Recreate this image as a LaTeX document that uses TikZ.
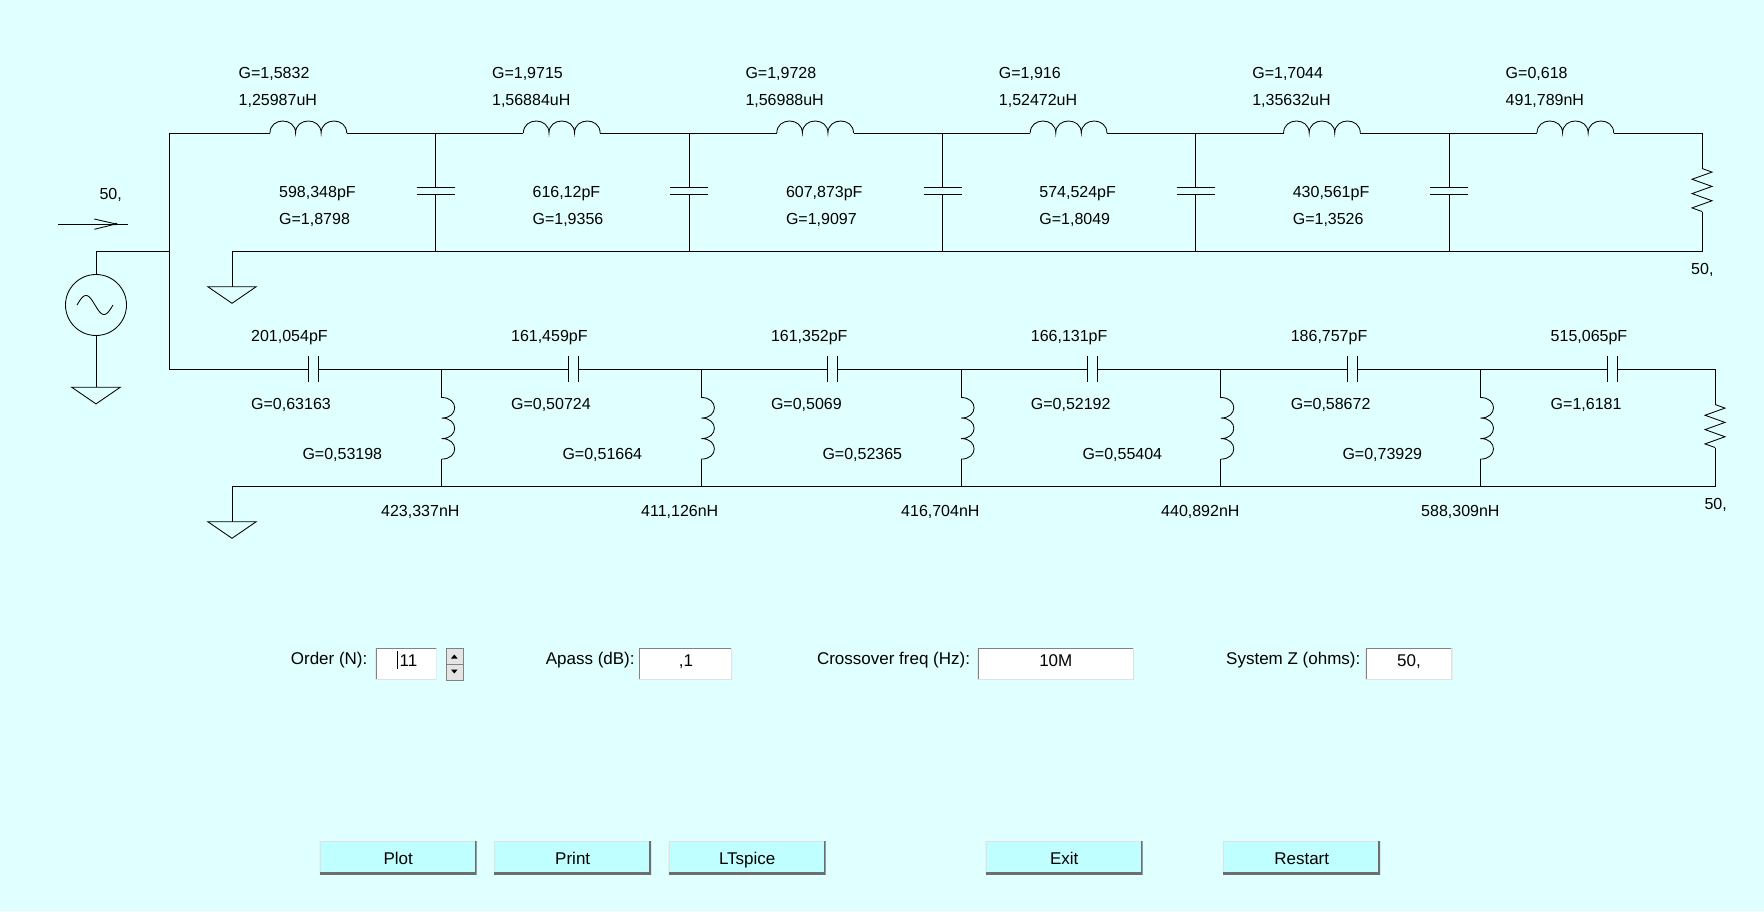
\documentclass[tikz,border=0pt]{standalone}
\usepackage{fontspec}
\setmainfont{Liberation Sans}
\definecolor{bgc}{RGB}{224,255,255}
\definecolor{btnc}{RGB}{191,255,255}
\definecolor{edgedark}{RGB}{110,110,110}
\definecolor{edgelight}{RGB}{225,225,225}
\definecolor{boxdark}{RGB}{130,130,130}
\definecolor{spinc}{RGB}{228,228,228}
\tikzset{
  hcoil/.pic={\draw[coilline] (0,0) .. controls (0,-16) and (25.57,-16) .. (25.57,0)
      .. controls (25.57,-16) and (51.13,-16) .. (51.13,0)
      .. controls (51.13,-16) and (76.7,-16) .. (76.7,0);},
  vcoil/.pic={\draw[coilline] (0,0) .. controls (17.3,0) and (17.3,20.53) .. (0,20.53)
      .. controls (17.3,20.53) and (17.3,41.07) .. (0,41.07)
      .. controls (17.3,41.07) and (17.3,61.6) .. (0,61.6);},
  gndtri/.pic={\draw[coilline] (-24.2,0) -- (24.2,0) -- (0,16.6) -- cycle;},
  resz/.pic={\draw[coilline] (0,0) -- (10,3.6) -- (-10,10.75) -- (10,17.9) -- (-10,25.1)
      -- (10,32.25) -- (-10,39.4) -- (0,43);},
}
\begin{document}
\begin{tikzpicture}[x=1pt,y=-1pt,
  wire/.style={line width=1pt},
  coilline/.style={line width=0.85pt},
  lbl/.style={anchor=base west,inner sep=0pt,font=\fontsize{16}{19}\selectfont},
  guitxt/.style={anchor=base west,inner sep=0pt,font=\fontsize{17}{20}\selectfont},
  boxtxt/.style={anchor=base,inner sep=0pt,font=\fontsize{17}{20}\selectfont},
  tbox/.style={fill=white,inner sep=0pt,anchor=north west,minimum height=31.5pt,
    path picture={
      \draw[line width=2.4pt,boxdark] (path picture bounding box.south west) -- (path picture bounding box.north west) -- (path picture bounding box.north east);
      \draw[line width=2.4pt,edgelight] (path picture bounding box.north east) -- (path picture bounding box.south east) -- (path picture bounding box.south west);}},
  btn/.style={fill=btnc,inner sep=0pt,anchor=north west,minimum width=157pt,minimum height=33pt,
    font=\fontsize{17}{20}\selectfont,text height=14.4pt,text depth=0pt,
    path picture={
      \draw[line width=2.4pt,edgelight] (path picture bounding box.south west) -- (path picture bounding box.north west) -- (path picture bounding box.north east);
      \draw[line width=4pt,edgedark] (path picture bounding box.north east) -- (path picture bounding box.south east) -- (path picture bounding box.south west);}},
  spinbtn/.style={fill=spinc,draw=boxdark,line width=0.8pt,inner sep=0pt,anchor=north west,minimum width=16.7pt,minimum height=15.6pt},
]
\fill[bgc] (0,0) rectangle (1764,911);
\useasboundingbox (0,0) rectangle (1764,911);

% ---------------- source ----------------
\node[circle,draw,coilline,minimum size=61pt,inner sep=0pt] (src) at (96,305) {};
\draw[coilline] plot[domain=0:360,samples=60,smooth] ({77+\x/10},{305-9.5*sin(\x)});
\coordinate (srcTop) at (96,251);
\coordinate (srcGnd) at (96,387.3);
\coordinate (inJ) at (169,251);
\draw[wire] (src.north) -- (srcTop) -- (inJ);
\draw[wire] (src.south) -- (srcGnd);
\pic at (srcGnd) {gndtri};
% arrow
\coordinate (arL) at (58,224);
\coordinate (arR) at (128,224);
\coordinate (arTip) at (116,224);
\draw[coilline] (arL) -- (arR);
\draw[coilline] (94.3,219) -- (arTip) -- (94.3,229.3);
\fill (arTip) circle (1.3pt);
\node[lbl] (zin) at (99.3,199.3) {50,};

% ---------------- top ladder ----------------
\coordinate (tl) at (169,133);
\coordinate (bl) at (169,369);
\coordinate (tr) at (1702,133);
\coordinate (rta) at (1702,168.5);
\coordinate (rtb) at (1702,211.5);
\coordinate (gtR) at (1702,251);
\coordinate (gtL) at (232,251);
\coordinate (gtS) at (232,286.7);
\foreach \i in {0,...,5}{
  \pgfmathsetmacro\xa{270+253.4*\i}
  \pgfmathsetmacro\xb{346.7+253.4*\i}
  \coordinate (La\i) at (\xa,133);
  \coordinate (Lb\i) at (\xb,133);
  \pic at (\xa,133) {hcoil};
}
\draw[wire] (tl) -- (La0) (Lb0) -- (La1) (Lb1) -- (La2) (Lb2) -- (La3) (Lb3) -- (La4) (Lb4) -- (La5) (Lb5) -- (tr) -- (rta);
\draw[wire] (rtb) -- (gtR) -- (gtL) -- (gtS);
\pic at (rta) {resz};
\pic at (gtS) {gndtri};
\draw[wire] (tl) -- (bl);
\foreach \i in {0,...,4}{
  \pgfmathsetmacro\xc{435.7+253.4*\i}
  \coordinate (Ct\i) at (\xc,133);
  \coordinate (Cb\i) at (\xc,251);
  \draw[wire] (Ct\i) -- (\xc,187.7) (\xc,194.3) -- (Cb\i);
  \draw[wire] (\xc-19,187.7) -- (\xc+19,187.7) (\xc-19,194.3) -- (\xc+19,194.3);
}
% top labels
\node[lbl] (tg0) at (238.5,78.5) {G=1,5832};
\node[lbl] (tv0) at (238.5,105) {1,25987uH};
\node[lbl] (tg1) at (491.9,78.5) {G=1,9715};
\node[lbl] (tv1) at (491.9,105) {1,56884uH};
\node[lbl] (tg2) at (745.3,78.5) {G=1,9728};
\node[lbl] (tv2) at (745.3,105) {1,56988uH};
\node[lbl] (tg3) at (998.7,78.5) {G=1,916};
\node[lbl] (tv3) at (998.7,105) {1,52472uH};
\node[lbl] (tg4) at (1252.1,78.5) {G=1,7044};
\node[lbl] (tv4) at (1252.1,105) {1,35632uH};
\node[lbl] (tg5) at (1505.5,78.5) {G=0,618};
\node[lbl] (tv5) at (1505.5,105) {491,789nH};
\node[lbl] (cv0) at (279,197.3) {598,348pF};
\node[lbl] (cg0) at (279,224) {G=1,8798};
\node[lbl] (cv1) at (532.4,197.3) {616,12pF};
\node[lbl] (cg1) at (532.4,224) {G=1,9356};
\node[lbl] (cv2) at (785.8,197.3) {607,873pF};
\node[lbl] (cg2) at (785.8,224) {G=1,9097};
\node[lbl] (cv3) at (1039.2,197.3) {574,524pF};
\node[lbl] (cg3) at (1039.2,224) {G=1,8049};
\node[lbl] (cv4) at (1292.6,197.3) {430,561pF};
\node[lbl] (cg4) at (1292.6,224) {G=1,3526};
\node[lbl] (zt) at (1691,274.3) {50,};

% ---------------- lower ladder ----------------
\coordinate (br) at (1715,369);
\coordinate (rla) at (1715,404.5);
\coordinate (rlb) at (1715,447.5);
\coordinate (gbR) at (1715,486);
\coordinate (gbL) at (232,486);
\coordinate (gbS) at (232,521.7);
\foreach \i in {0,...,5}{
  \pgfmathsetmacro\xs{313.3+259.8*\i}
  \coordinate (Sa\i) at (\xs-5,369);
  \coordinate (Sb\i) at (\xs+5,369);
  \draw[wire] (\xs-5,355.7) -- (\xs-5,382.3) (\xs+5,355.7) -- (\xs+5,382.3);
}
\draw[wire] (bl) -- (Sa0) (Sb0) -- (Sa1) (Sb1) -- (Sa2) (Sb2) -- (Sa3) (Sb3) -- (Sa4) (Sb4) -- (Sa5) (Sb5) -- (br) -- (rla);
\draw[wire] (rlb) -- (gbR) -- (gbL) -- (gbS);
\pic at (rla) {resz};
\pic at (gbS) {gndtri};
\foreach \i in {0,...,4}{
  \pgfmathsetmacro\xp{441.7+259.7*\i}
  \coordinate (Pt\i) at (\xp,369);
  \coordinate (Pb\i) at (\xp,486);
  \draw[wire] (Pt\i) -- (\xp,397.5) (\xp,459.1) -- (Pb\i);
  \pic at (\xp,397.5) {vcoil};
}
% lower labels
\node[lbl] (sv0) at (251,341.5) {201,054pF};
\node[lbl] (sg0) at (251,409) {G=0,63163};
\node[lbl] (sv1) at (510.9,341.5) {161,459pF};
\node[lbl] (sg1) at (510.9,409) {G=0,50724};
\node[lbl] (sv2) at (770.8,341.5) {161,352pF};
\node[lbl] (sg2) at (770.8,409) {G=0,5069};
\node[lbl] (sv3) at (1030.7,341.5) {166,131pF};
\node[lbl] (sg3) at (1030.7,409) {G=0,52192};
\node[lbl] (sv4) at (1290.6,341.5) {186,757pF};
\node[lbl] (sg4) at (1290.6,409) {G=0,58672};
\node[lbl] (sv5) at (1550.5,341.5) {515,065pF};
\node[lbl] (sg5) at (1550.5,409) {G=1,6181};
\node[lbl] (pg0) at (302.3,459) {G=0,53198};
\node[lbl] (pv0) at (381,516) {423,337nH};
\node[lbl] (pg1) at (562.3,459) {G=0,51664};
\node[lbl] (pv1) at (641,516) {411,126nH};
\node[lbl] (pg2) at (822.3,459) {G=0,52365};
\node[lbl] (pv2) at (901,516) {416,704nH};
\node[lbl] (pg3) at (1082.3,459) {G=0,55404};
\node[lbl] (pv3) at (1161,516) {440,892nH};
\node[lbl] (pg4) at (1342.3,459) {G=0,73929};
\node[lbl] (pv4) at (1421,516) {588,309nH};
\node[lbl] (zb) at (1704.3,509) {50,};

% ---------------- form ----------------
\node[guitxt] (ordl) at (290.7,664) {Order (N):};
\node[tbox,minimum width=60.75pt] (ordb) at (375.75,648) {};
\node[boxtxt,anchor=base west] (ordv) at (399.5,666) {11};
\draw[line width=0.9pt] (397.7,651) -- (397.7,669.3);
\node[spinbtn] (spu) at (446,648) {};
\node[spinbtn] (spd) at (446,663.9) {};
\fill (451,658.5) -- (457.6,658.5) -- (454.3,654.5) -- cycle;
\fill (451,669.5) -- (457.6,669.5) -- (454.3,673.5) -- cycle;

\node[guitxt] (apl) at (545.6,664) {Apass (dB):};
\node[tbox,minimum width=93pt] (apb) at (639,648) {};
\node[boxtxt] (apv) at (686,666) {,1};

\node[guitxt] (col) at (816.8,664) {Crossover freq (Hz):};
\node[tbox,minimum width=156.4pt] (cob) at (977.6,648) {};
\node[boxtxt] (cov) at (1055.8,666) {10M};

\node[guitxt] (szl) at (1226,664) {System Z (ohms):};
\node[tbox,minimum width=86.7pt] (szb) at (1365.7,648) {};
\node[boxtxt] (szv) at (1409,666) {50,};

% ---------------- buttons ----------------
\node[btn] (bplot) at (319.5,841) {Plot};
\node[btn] (bprint) at (494,841) {Print};
\node[btn] (blts) at (668.5,841) {LTspice};
\node[btn] (bexit) at (985.5,841) {Exit};
\node[btn] (brest) at (1223,841) {Restart};
\end{tikzpicture}
\end{document}
